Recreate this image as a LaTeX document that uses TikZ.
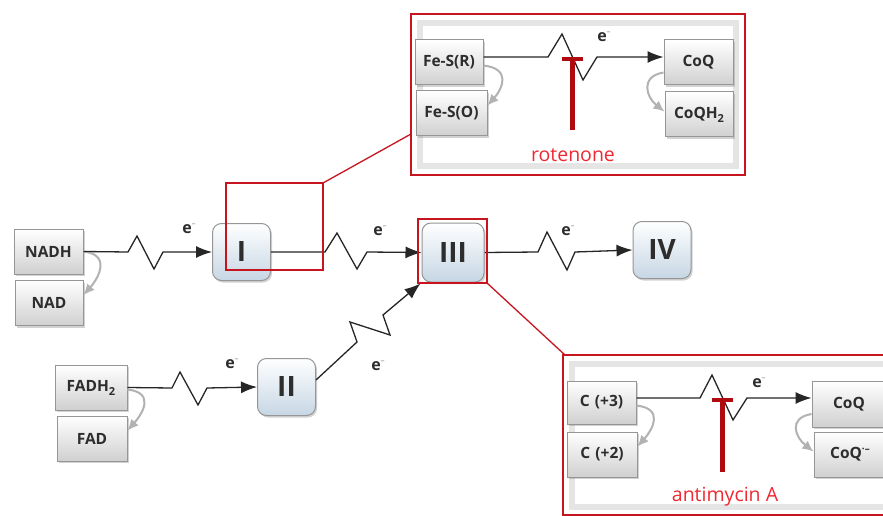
\documentclass[tikz,border=0pt]{standalone}
\usepackage{fontspec}
\setmainfont{Open Sans}
\usetikzlibrary{arrows.meta,shadows}
\definecolor{boxline}{RGB}{150,150,150}
\definecolor{boxbot}{RGB}{208,208,208}
\definecolor{bluebot}{RGB}{198,214,228}
\definecolor{frred}{RGB}{200,20,30}
\definecolor{tred}{RGB}{175,10,15}
\definecolor{txtred}{RGB}{240,40,50}
\definecolor{txtgray}{RGB}{45,45,45}
\tikzset{
  graybox/.style={draw=boxline, line width=1pt, top color=white, bottom color=boxbot,
    minimum width=#1, minimum height=45pt, inner sep=0pt, font=\bfseries\fontsize{15.5}{17}\selectfont,
    text=txtgray, drop shadow={shadow xshift=1.5pt, shadow yshift=-2pt, opacity=0.35}},
  cplx/.style={draw=boxline, line width=1pt, rounded corners=9pt, top color=white, bottom color=bluebot,
    minimum width=58pt, minimum height=57pt, inner sep=0pt, font=\bfseries\fontsize{28}{30}\selectfont,
    text=txtgray, drop shadow={shadow xshift=1.5pt, shadow yshift=-2pt, opacity=0.35}},
  redframe/.style={draw=frred, line width=2pt},
  zz/.style={line width=1.3pt, black!85, -{Latex[length=16pt,width=12pt]}},
  redlink/.style={draw=frred, line width=1.3pt},
  recyc/.style={draw=gray!60, line width=2pt, -{Latex[length=11pt,width=10pt]}},
  elab/.style={font=\bfseries\fontsize{16}{17}\selectfont, text=txtgray, inner sep=0pt},
  inhib/.style={draw=tred, line width=5pt},
  inhibcap/.style={draw=tred, line width=4pt},
  rlabel/.style={text=txtred, font=\fontsize{19.5}{21}\selectfont, inner sep=0pt}
}
\newcommand{\elec}{e\raisebox{7pt}{\fontsize{8}{8}\selectfont\mdseries\color{gray}–}}
\newcommand{\subtwo}{\raisebox{-4pt}{\fontsize{11}{11}\selectfont 2}}
\begin{document}
\begin{tikzpicture}[x=1pt,y=-1pt]
\useasboundingbox (0,0) rectangle (883,516);
\fill[white] (0,0) rectangle (883,516);

% ---------- main chain ----------
\node[graybox=69pt] (nadh) at (48.5,251.5) {NADH};
\node[graybox=68pt] (nad) at (49,303) {NAD};
\node[graybox=72pt] (fadh) at (91,387.5) {FADH\subtwo};
\node[graybox=70pt] (fad) at (92,438.5) {FAD};
\node[cplx] (cI) at (241.5,252) {I};
\node[cplx] (cII) at (286.5,387) {II};
\node[cplx, minimum width=62pt, minimum height=59pt] (cIII) at (453,252.5) {III};
\node[cplx] (cIV) at (662,250) {IV};

% recycle arrows
\draw[recyc] (nadh.east) .. controls +(27,3) and +(16,-18) .. ([yshift=8pt]nad.east);
\draw[recyc] ([yshift=-2pt]fadh.east) .. controls +(27,3) and +(16,-18) .. ([yshift=8pt]fad.east);

% NADH -> I
\draw[zz] (nadh.east) -- (128,252) -- (137,236) -- (154,269) -- (163,252) -- (cI.west);
\node[elab] (e1) at (189,229) {\elec};
% I -> III
\draw[zz] (cI.east) -- (325,252) -- (337,233) -- (357,269) -- (367,252) -- (cIII.west);
\node[elab] (e2) at (380,231) {\elec};
% III -> IV
\draw[zz] (cIII.east) -- (538,252) -- (547,232) -- (567,270) -- (575,252) -- (cIV.west);
\node[elab] (e3) at (568,231) {\elec};
% FADH2 -> II
\draw[zz] (fadh.east) -- (172,388) -- (180,372) -- (198,405) -- (207,388) -- (cII.west);
\node[elab] (e4) at (232,364) {\elec};
% II -> III
\draw[zz] ([yshift=-22pt]cII.north east) -- (357,342) -- (350,322) -- (390,335) -- (383,315) -- ([xshift=-1pt,yshift=-1pt]cIII.south west);
\node[elab] (e5) at (378,366) {\elec};

% red frames on I and III
\draw[redframe] (226,183) rectangle (323,270);
\coordinate (rI) at (323,183);
\draw[redframe] (418,219) rectangle (487,283);
\coordinate (rIII) at (487,283);

% ---------- rotenone inset ----------
\draw[gray!20, line width=6pt] (420,23) rectangle (736,166);
\draw[redframe] (411,14) rectangle (745,175);
\draw[redlink] (rI) -- (411,134);
\node[graybox=68pt] (fesr) at (449,62.5) {Fe-S(R)};
\node[graybox=71pt] (feso) at (451.5,113.5) {Fe-S(O)};
\node[graybox=69pt] (coqa) at (698.5,62.5) {CoQ};
\node[graybox=68pt] (coqh) at (699,114.5) {CoQH\subtwo};
\draw[recyc] ([yshift=-3pt]fesr.east) .. controls +(27,3) and +(16,-18) .. ([yshift=8pt]feso.east);
\draw[recyc] ([yshift=-10pt]coqa.west) .. controls +(-24,4) and +(-18,-14) .. ([yshift=3pt]coqh.west);
\draw[zz] (fesr.east |- 0,57) -- (548,57) -- (562,34) -- (583,80) -- (597,57) -- (coqa.west |- 0,57);
\node[elab] (e6) at (604,37) {\elec};
\draw[inhib] (572,58) -- (572,130);
\draw[inhibcap] (562,59) -- (583,59);
\node[rlabel] (rot) at (573,155) {rotenone};

% ---------- antimycin inset ----------
\draw[gray!20, line width=6pt] (572,364) rectangle (895,507);
\draw[redframe] (563,355) rectangle (890,515);
\draw[redlink] (rIII) -- (565,355);
\node[graybox=69pt, minimum height=43pt] (c3) at (601.5,402.5) {C\,\,(+3)};
\node[graybox=70pt] (c2) at (602,454.5) {C\,\,(+2)};
\node[graybox=74pt, minimum height=46pt] (coqb) at (849,404) {CoQ};
\node[graybox=72pt] (coqr) at (850,454.5) {CoQ\raisebox{6pt}{\fontsize{10}{10}\selectfont·–}};
\draw[recyc] ([yshift=-3pt]c3.east) .. controls +(27,3) and +(16,-18) .. ([yshift=8pt]c2.east);
\draw[recyc] ([yshift=-10pt]coqb.west) .. controls +(-24,4) and +(-18,-14) .. ([yshift=3pt]coqr.west);
\draw[zz] (c3.east |- 0,398) -- (700,398) -- (712,375) -- (733,420) -- (747,398) -- (coqb.west |- 0,398);
\node[elab] (e7) at (759,383) {\elec};
\draw[inhib] (722,399) -- (722,472);
\draw[inhibcap] (712,400) -- (733,400);
\node[rlabel] (ant) at (725,497) {antimycin A};
\end{tikzpicture}
\end{document}
